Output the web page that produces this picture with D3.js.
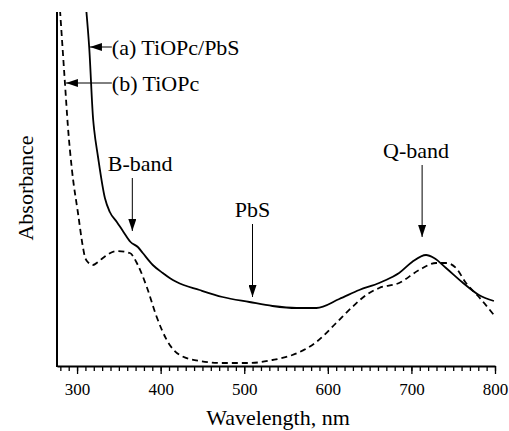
<!DOCTYPE html>
<html>
<head>
<meta charset="utf-8">
<script src="https://cdn.jsdelivr.net/npm/d3@7"></script>
<style>
  body { margin: 0; background: #fff; }
  svg { display: block; }
</style>
</head>
<body>
<figure id="spectra" style="margin:0"></figure>
<script>
// (a) TiOPc/PbS - solid curve
const wavelengthA = [311, 314.5, 319.3, 320.5, 324.9, 333.3, 339.2, 347.6, 354.8, 364, 372.7, 378.6, 390.6, 402.5, 410.8, 419.2, 446.6, 474.1, 506.3, 533.8, 562.4, 586.3, 613.7, 637.6, 661.4, 677, 685.3, 700.8, 717.5, 727.1, 741.4, 760.5, 780.8, 798.7];
const absorbA = [3.56, 3.19, 2.46, 2.36, 2.10, 1.68, 1.54, 1.44, 1.35, 1.24, 1.19, 1.13, 1.01, 0.93, 0.88, 0.84, 0.76, 0.69, 0.64, 0.60, 0.58, 0.58, 0.67, 0.76, 0.83, 0.89, 0.93, 1.04, 1.11, 1.08, 0.98, 0.84, 0.71, 0.65];

// (b) TiOPc - dashed curve
const wavelengthB = [279.6, 285.5, 289.1, 293.9, 301.1, 307, 309.4, 314, 319, 325, 330.9, 347.6, 363.1, 372.7, 383.4, 395.3, 407.3, 422.8, 446.6, 474.1, 506.3, 533.8, 557.6, 586.3, 610.1, 629.2, 645.9, 661.4, 685.3, 709.2, 729.5, 741.4, 753.3, 765.3, 780.8, 798.7];
const absorbB = [3.56, 2.83, 2.39, 1.96, 1.53, 1.19, 1.09, 1.03, 1.01, 1.04, 1.08, 1.15, 1.13, 1.01, 0.79, 0.49, 0.26, 0.11, 0.05, 0.03, 0.03, 0.06, 0.11, 0.24, 0.43, 0.59, 0.71, 0.78, 0.83, 0.96, 1.03, 1.03, 0.98, 0.83, 0.69, 0.51];

// axis ticks
const majorTicks = [300, 400, 500, 600, 700, 800];
const minorTicks = d3.range(280, 801, 10);

// annotations: arrow tip / tail in data units
const labelNames = ["(a) TiOPc/PbS", "(b) TiOPc"];
const labelTipNm = [315.4, 286.7];
const labelTailNm = [341.6, 341.6];
const labelAbs = [3.19, 2.83];

const bandNames = ["B-band", "PbS", "Q-band"];
const bandNm = [366.1, 509.9, 712.8];
const bandTextNm = [375.6, 509.9, 705.5];
const bandTipAbs = [1.35, 0.69, 1.29];
const bandTailAbs = [1.88, 1.42, 2.01];

const width = 509, height = 431;
const margin = { left: 57, right: 495, top: 12, bottom: 366 };
const serif = "'Liberation Serif', 'Times New Roman', serif";

const svg = d3.select("figure#spectra")
  .append("svg")
  .attr("width", width)
  .attr("height", height)
  .attr("font-family", serif);

const x = d3.scaleLinear().domain([276, 800]).range([margin.left, margin.right]);
const y = d3.scaleLinear().domain([0, 3.54]).range([margin.bottom, margin.top]);

// arrowhead marker
const defs = svg.append("defs");
defs.append("marker")
  .attr("id", "head")
  .attr("viewBox", "0 0 12 8")
  .attr("refX", 12).attr("refY", 4)
  .attr("markerWidth", 12).attr("markerHeight", 8)
  .attr("markerUnits", "userSpaceOnUse")
  .attr("orient", "auto")
  .append("path").attr("d", "M0,0L12,4L0,8Z").attr("fill", "#000");

defs.append("clipPath").attr("id", "plot")
  .append("rect").attr("x", margin.left).attr("y", margin.top)
  .attr("width", margin.right - margin.left).attr("height", margin.bottom - margin.top);

// curves
const line = d3.line()
  .x(d => x(d[0]))
  .y(d => y(d[1]))
  .curve(d3.curveMonotoneX);

const g = svg.append("g").attr("clip-path", "url(#plot)");
g.append("path")
  .datum(d3.zip(wavelengthA, absorbA))
  .attr("d", line)
  .attr("fill", "none").attr("stroke", "#000").attr("stroke-width", 1.8);
g.append("path")
  .datum(d3.zip(wavelengthB, absorbB))
  .attr("d", line)
  .attr("fill", "none").attr("stroke", "#000").attr("stroke-width", 1.8)
  .attr("stroke-dasharray", "6,4");

// x axis: minor ticks, then major ticks with labels
svg.append("g")
  .attr("transform", "translate(0," + margin.bottom + ")")
  .call(d3.axisBottom(x).tickValues(minorTicks).tickSize(5).tickFormat(""))
  .call(a => a.select(".domain").remove())
  .selectAll("line").attr("stroke-width", 1.3);

const xa = svg.append("g")
  .attr("transform", "translate(0," + margin.bottom + ")")
  .call(d3.axisBottom(x).tickValues(majorTicks).tickSize(8).tickPadding(9).tickSizeOuter(0))
  .attr("font-family", serif);
xa.select(".domain").attr("stroke-width", 2);
xa.selectAll("line").attr("stroke-width", 1.3);
xa.selectAll("text").attr("font-size", 17);

// y axis line only
svg.append("line")
  .attr("x1", margin.left).attr("x2", margin.left)
  .attr("y1", margin.top).attr("y2", margin.bottom + 1)
  .attr("stroke", "#000").attr("stroke-width", 2);

// axis titles
svg.append("text")
  .attr("x", (margin.left + margin.right) / 2 + 2).attr("y", 425)
  .attr("text-anchor", "middle").attr("font-size", 22)
  .text("Wavelength, nm");
svg.append("text")
  .attr("transform", "translate(33,188)rotate(-90)")
  .attr("text-anchor", "middle").attr("font-size", 22)
  .text("Absorbance");

// curve labels with horizontal arrows
labelNames.forEach((name, i) => {
  svg.append("line")
    .attr("x1", x(labelTailNm[i])).attr("x2", x(labelTipNm[i]))
    .attr("y1", y(labelAbs[i])).attr("y2", y(labelAbs[i]))
    .attr("stroke", "#000").attr("stroke-width", 1)
    .attr("marker-end", "url(#head)");
  svg.append("text")
    .attr("x", x(labelTailNm[i]))
    .attr("y", y(labelAbs[i]) + 8)
    .attr("font-size", 22)
    .text(name);
});

// band labels with vertical arrows
bandNames.forEach((name, i) => {
  svg.append("line")
    .attr("x1", x(bandNm[i])).attr("x2", x(bandNm[i]))
    .attr("y1", y(bandTailAbs[i])).attr("y2", y(bandTipAbs[i]))
    .attr("stroke", "#000").attr("stroke-width", 1)
    .attr("marker-end", "url(#head)");
  svg.append("text")
    .attr("x", x(bandTextNm[i]))
    .attr("y", y(bandTailAbs[i]) - 7)
    .attr("text-anchor", "middle")
    .attr("font-size", 22)
    .text(name);
});
</script>
</body>
</html>
